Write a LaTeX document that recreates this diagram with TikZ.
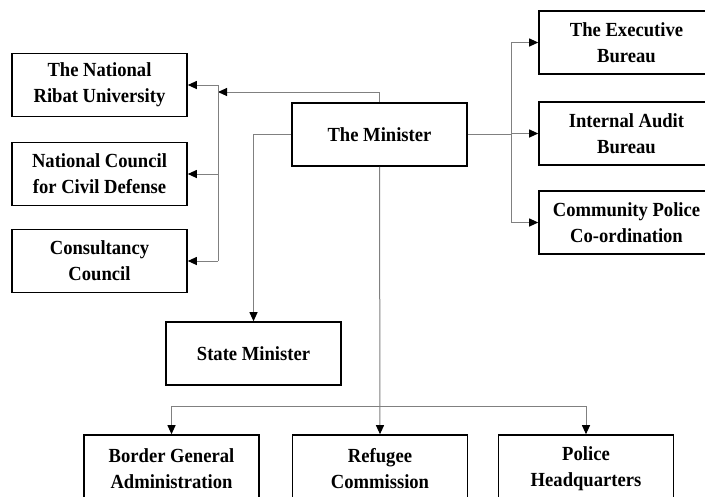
\documentclass[tikz,border=0pt]{standalone}
\usepackage{fontspec}
\setmainfont{Liberation Serif}[FakeStretch=0.93]
\usetikzlibrary{arrows.meta, positioning}
\definecolor{linegray}{RGB}{128,128,128}

\begin{document}
\begin{tikzpicture}[x=1pt, y=-1pt,
            box/.style={draw, line width=1.6pt, rectangle, minimum width=175pt, minimum height=63pt, inner sep=0pt, align=center, font=\fontsize{20}{26}\selectfont\bfseries},
            conn/.style={draw=linegray, line width=1pt},
            arr/.style={conn, -{Triangle[length=9pt, width=8pt, color=black]}}]
            \clip (0,0) rectangle (705,496);
            % 部长
            \node[box] (minister) at (379.5,134.5) {The Minister};

            % 左侧机构
            \node[box] (ribat) at (99.5,85) {The National\\Ribat University};
            \node[box] (council) at (99.5,174) {National Council\\for Civil Defense};
            \node[box] (consult) at (99.5,261) {Consultancy\\Council};

            % 右侧机构
            \node[box] (exec) at (626.5,42.5) {The Executive\\Bureau};
            \node[box] (audit) at (626.5,133.5) {Internal Audit\\Bureau};
            \node[box] (community) at (626.5,222.5) {Community Police\\Co-ordination};

            % 国务部长
            \node[box] (state) at (253.5,353.5) {State Minister};

            % 下层机构
            \node[box, minimum height=68pt] (border) at (171.5,469) {Border General\\Administration};
            \node[box, minimum height=68pt] (refugee) at (380,469) {Refugee\\Commission};
            \node[box, minimum height=68pt] (police) at (586,469) {Police\\Headquarters};

            % 汇流点
            \coordinate (lbus) at (218,92);
            \coordinate (rbus) at (511,134.5);
            \coordinate (bbus) at (380,406);

            % 连接线
            \draw[arr] (minister.north) |- (lbus);
            \draw[conn] (ribat.east -| lbus) -- (consult.east -| lbus);
            \draw[arr] (ribat.east -| lbus) -- (ribat.east);
            \draw[arr] (council.east -| lbus) -- (council.east);
            \draw[arr] (consult.east -| lbus) -- (consult.east);
            \draw[conn] (minister.east) -- (rbus);
            \draw[conn] (exec.west -| rbus) -- (community.west -| rbus);
            \draw[arr] (exec.west -| rbus) -- (exec.west);
            \draw[arr] (audit.west -| rbus) -- (audit.west);
            \draw[arr] (community.west -| rbus) -- (community.west);
            \draw[arr] (minister.west) -| (state.north);
            \draw[arr] (minister.south) -- (refugee.north);
            \draw[conn] (border.north |- bbus) -- (police.north |- bbus);
            \draw[arr] (border.north |- bbus) -- (border.north);
            \draw[arr] (police.north |- bbus) -- (police.north);
        \end{tikzpicture}
\end{document}
